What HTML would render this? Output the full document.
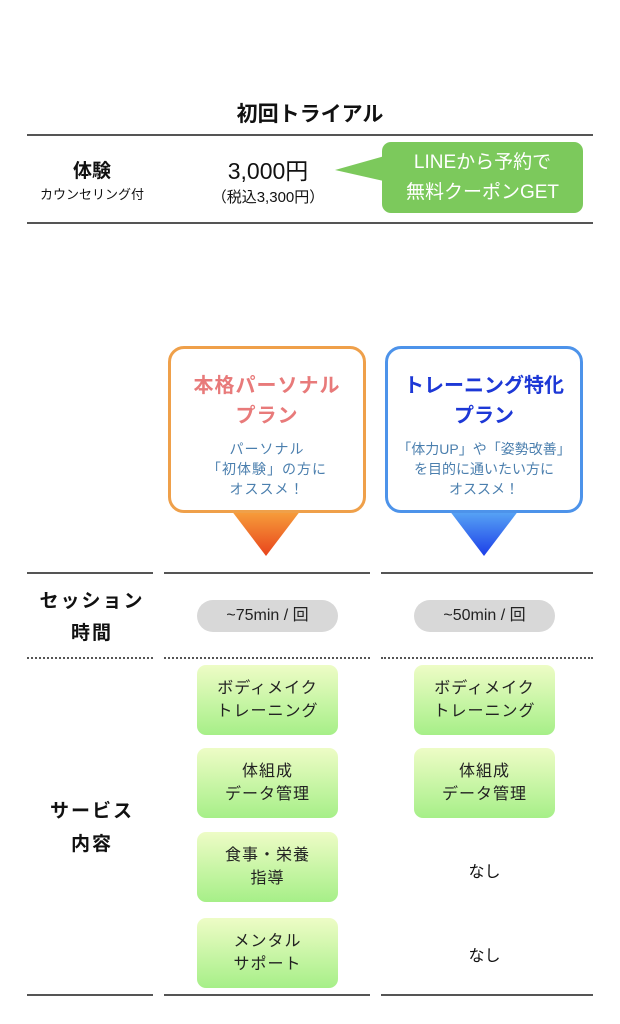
<!DOCTYPE html>
<html><head><meta charset="utf-8"><style>
*{margin:0;padding:0;box-sizing:border-box}
body{width:620px;height:1024px;background:#fff;position:relative;overflow:hidden;font-family:"Liberation Sans","Noto Sans CJK JP",sans-serif;color:#111}
.a{position:absolute}
.c{text-align:center}
.hl{position:absolute;height:1.5px;background:#555}
.dl{position:absolute;height:0;border-top:2px dotted #555}
.pill{position:absolute;background:#d8d8d8;border-radius:16px;font-size:16px;text-align:center;line-height:32px;color:#222}
.g{position:absolute;width:141px;height:70px;border-radius:9px;background:linear-gradient(#eefcc6,#a6ef88);font-size:16px;line-height:23px;text-align:center;display:flex;align-items:center;justify-content:center;color:#222;letter-spacing:1px}
.box{position:absolute;top:346px;height:167px;width:198px;border-radius:16px;background:#fff;text-align:center}
</style></head><body>
<div class="a c" style="left:0;width:620px;top:98px;font-size:21px;font-weight:bold">初回トライアル</div>
<div class="hl" style="left:27px;width:566px;top:134px"></div>
<div class="hl" style="left:27px;width:566px;top:222px"></div>
<div class="a c" style="left:32px;width:120px;top:156px;font-size:19px;font-weight:bold">体験</div>
<div class="a c" style="left:22px;width:140px;top:184px;font-size:13px">カウンセリング付</div>
<div class="a c" style="left:198px;width:140px;top:152px;font-size:23px">3,000円</div>
<div class="a c" style="left:198px;width:140px;top:186px;font-size:15px">（税込3,300円）</div>
<svg class="a" style="left:330px;top:140px" width="260" height="76"><path d="M58 15 L5 30 L58 42 Z" fill="#7cc95c"/><rect x="52" y="2" width="201" height="71" rx="9" fill="#7cc95c"/></svg>
<div class="a c" style="left:382px;width:201px;top:148px;font-size:19px;line-height:30px;color:#fff">LINEから予約で<br>無料クーポンGET</div>

<svg class="a" style="left:0;top:500px" width="620" height="60"><defs>
<linearGradient id="o" x1="0" y1="0" x2="0" y2="1"><stop offset="0" stop-color="#f7a13c"/><stop offset="1" stop-color="#e8441c"/></linearGradient>
<linearGradient id="b" x1="0" y1="0" x2="0" y2="1"><stop offset="0" stop-color="#5aa8f5"/><stop offset="1" stop-color="#1c3ee8"/></linearGradient></defs>
<path d="M231 10 L301 10 L266 56 Z" fill="url(#o)"/><path d="M449 10 L519 10 L484 56 Z" fill="url(#b)"/></svg>
<div class="box" style="left:168px;border:3px solid #efa04a">
<div style="margin-top:22px;font-size:20px;font-weight:bold;line-height:30px;color:#e87a7a;letter-spacing:1px">本格パーソナル<br>プラン</div>
<div style="margin-top:8px;font-size:14px;line-height:20px;color:#4b7fae;letter-spacing:1px">パーソナル<br>「初体験」の方に<br>オススメ！</div></div>
<div class="box" style="left:385px;border:3px solid #4d93ea">
<div style="margin-top:22px;font-size:20px;font-weight:bold;line-height:30px;color:#1d38d6">トレーニング特化<br>プラン</div>
<div style="margin-top:8px;font-size:14px;line-height:20px;color:#4b7fae">「体力UP」や「姿勢改善」<br>を目的に通いたい方に<br>オススメ！</div></div>

<div class="hl" style="left:27px;width:126px;top:572px"></div>
<div class="hl" style="left:164px;width:206px;top:572px"></div>
<div class="hl" style="left:381px;width:212px;top:572px"></div>
<div class="a c" style="left:27px;width:130px;top:586px;font-size:19px;font-weight:bold;line-height:32px;letter-spacing:2px">セッション<br>時間</div>
<div class="pill" style="left:197px;top:600px;width:141px">~75min / 回</div>
<div class="pill" style="left:414px;top:600px;width:141px">~50min / 回</div>
<div class="dl" style="left:27px;width:126px;top:657px"></div>
<div class="dl" style="left:164px;width:206px;top:657px"></div>
<div class="dl" style="left:381px;width:212px;top:657px"></div>

<div class="g" style="left:197px;top:665px">ボディメイク<br>トレーニング</div>
<div class="g" style="left:414px;top:665px">ボディメイク<br>トレーニング</div>
<div class="g" style="left:197px;top:748px">体組成<br>データ管理</div>
<div class="g" style="left:414px;top:748px">体組成<br>データ管理</div>
<div class="g" style="left:197px;top:832px">食事・栄養<br>指導</div>
<div class="g" style="left:197px;top:918px">メンタル<br>サポート</div>
<div class="a c" style="left:414px;width:141px;top:858px;font-size:16px">なし</div>
<div class="a c" style="left:414px;width:141px;top:942px;font-size:16px">なし</div>
<div class="a c" style="left:27px;width:130px;top:795px;font-size:19px;font-weight:bold;line-height:33px;letter-spacing:2px">サービス<br>内容</div>

<div class="hl" style="left:27px;width:126px;top:994px"></div>
<div class="hl" style="left:164px;width:206px;top:994px"></div>
<div class="hl" style="left:381px;width:212px;top:994px"></div>
</body></html>
